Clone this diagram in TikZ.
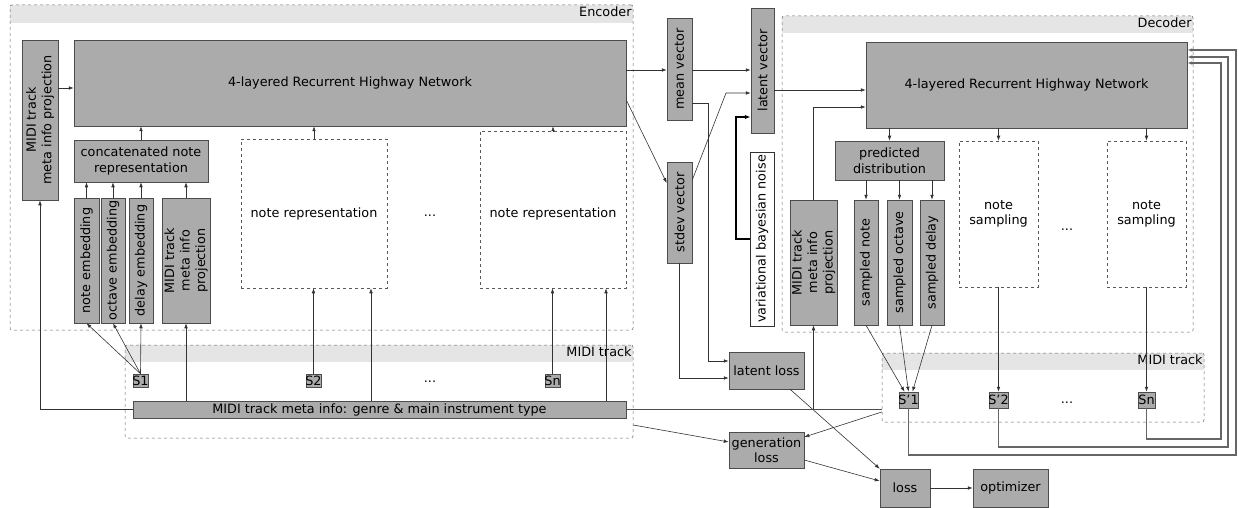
\documentclass[tikz,border=0pt]{standalone}
\usepackage{fontspec}
\setmainfont{DejaVu Sans}
\usetikzlibrary{fit,arrows.meta}
\begin{document}
\begin{tikzpicture}[x=1pt,y=-1pt,
  font=\fontsize{12.8}{15.5}\selectfont,
  gbox/.style={draw=black!70, fill=black!33, line width=0.5pt, inner sep=0pt},
  wbox/.style={draw=black!65, dashed, fill=white, line width=0.5pt, inner sep=0pt},
  nbox/.style={draw=black!80, fill=white, line width=0.6pt, inner sep=0pt},
  cont/.style={draw=black!60, dashed, rounded corners=2pt, line width=0.5pt, inner sep=0pt},
  hdr/.style={fill=black!10, inner sep=0pt},
  txt/.style={align=center, inner sep=0pt},
  rot/.style={rotate=90, align=center, inner sep=0pt},
  lbl/.style={inner sep=1.5pt},
  conn/.style={draw=black!80, line width=0.6pt, -{Latex[length=5pt,width=3.6pt]}},
  plain/.style={draw=black!70, line width=0.6pt},
  fb/.style={draw=black!60, line width=1.1pt, -{Latex[length=5pt,width=3.6pt]}},
  thickc/.style={draw=black, line width=1.5pt, -{Latex[length=6pt,width=4.5pt]}}
]
\useasboundingbox (0,0) rectangle (1239,508);

% ---------------- Encoder ----------------
\node[hdr, fit={(10,5)(633,23)}] (enc-h) {};
\node[cont, fit={(10,5)(633,330)}] (enc) {};
\node[lbl, anchor=north east] (enc-l) at (enc.north east) {Encoder};

\node[gbox, fit={(74,40)(626,126)}] (erhn) {};
\node[txt] (erhn-t) at (erhn) {4-layered Recurrent Highway Network};
\node[gbox, fit={(22,40)(58,200)}] (eproj) {};
\node[rot] (eproj-t) at (eproj) {MIDI track\\meta info projection};

\node[gbox, fit={(74,140)(208,182)}] (concat) {};
\node[txt] (concat-t) at (concat) {concatenated note\\representation};
\node[gbox, fit={(74,198)(99,323)}] (ne) {};
\node[rot] (ne-t) at (ne) {note embedding};
\node[gbox, fit={(101,198)(125,323)}] (oe) {};
\node[rot] (oe-t) at (oe) {octave embedding};
\node[gbox, fit={(129,198)(153,323)}] (de) {};
\node[rot] (de-t) at (de) {delay embedding};
\node[gbox, fit={(162,198)(210,323)}] (emp) {};
\node[rot] (emp-t) at (emp) {MIDI track\\meta info\\projection};

\node[wbox, fit={(241,139)(387,288)}] (nr1) {};
\node[txt] (nr1-t) at (nr1) {note representation};
\node[wbox, fit={(480,131)(626,288)}] (nr2) {};
\node[txt] (nr2-t) at ([yshift=-4pt]nr2.center) {note representation};
\node[txt] (edots) at (430,216) {...};

% Encoder MIDI track
\node[hdr, fit={(125,345)(633,362)}] (emt-h) {};
\node[cont, fit={(125,345)(633,438)}] (emt) {};
\node[lbl, anchor=north east] (emt-l) at (emt.north east) {MIDI track};
\node[gbox, fit={(133,374)(148,387)}] (S1) {};
\node[txt] (S1-t) at (S1) {S1};
\node[gbox, fit={(306,374)(321,387)}] (S2) {};
\node[txt] (S2-t) at (S2) {S2};
\node[gbox, fit={(545,374)(560,387)}] (Sn) {};
\node[txt] (Sn-t) at (Sn) {Sn};
\node[txt] (edots2) at (430,382) {...};
\node[gbox, fit={(133,401)(626,418)}] (meta) {};
\node[txt] (meta-t) at (meta) {MIDI track meta info: genre \& main instrument type};

% ---------------- Middle ----------------
\node[gbox, fit={(667,18)(692,120)}] (mean) {};
\node[rot] (mean-t) at (mean) {mean vector};
\node[gbox, fit={(667,162)(692,263)}] (stdev) {};
\node[rot] (stdev-t) at (stdev) {stdev vector};
\node[gbox, fit={(751,8)(774,133)}] (latent) {};
\node[rot] (latent-t) at (latent) {latent vector};
\node[nbox, fit={(750,152)(774,326)}] (noise) {};
\node[rot] (noise-t) at (noise) {variational bayesian noise};

\node[gbox, fit={(729,352)(804,389)}] (lloss) {};
\node[txt] (lloss-t) at (lloss) {latent loss};
\node[gbox, fit={(729,432)(804,468)}] (gloss) {};
\node[txt] (gloss-t) at (gloss) {generation\\loss};
\node[gbox, fit={(880,469)(930,507)}] (loss) {};
\node[txt] (loss-t) at (loss) {loss};
\node[gbox, fit={(973,469)(1048,507)}] (opt) {};
\node[txt] (opt-t) at (opt) {optimizer};

% ---------------- Decoder ----------------
\node[hdr, fit={(782,16)(1193,33)}] (dec-h) {};
\node[cont, fit={(782,16)(1193,332)}] (dec) {};
\node[lbl, anchor=north east] (dec-l) at (dec.north east) {Decoder};

\node[gbox, fit={(866,42)(1187,128)}] (drhn) {};
\node[txt] (drhn-t) at (drhn) {4-layered Recurrent Highway Network};
\node[gbox, fit={(790,200)(837,325)}] (dproj) {};
\node[rot] (dproj-t) at (dproj) {MIDI track\\meta info\\projection};
\node[gbox, fit={(835,141)(944,180)}] (pred) {};
\node[txt] (pred-t) at (pred) {predicted\\distribution};
\node[gbox, fit={(854,200)(878,325)}] (sn) {};
\node[rot] (sn-t) at (sn) {sampled note};
\node[gbox, fit={(887,200)(912,325)}] (so) {};
\node[rot] (so-t) at (so) {sampled octave};
\node[gbox, fit={(920,200)(944,325)}] (sd) {};
\node[rot] (sd-t) at (sd) {sampled delay};
\node[wbox, fit={(959,141)(1038,287)}] (ns1) {};
\node[txt] (ns1-t) at (ns1) {note\\sampling};
\node[wbox, fit={(1107,141)(1186,287)}] (ns2) {};
\node[txt] (ns2-t) at (ns2) {note\\sampling};
\node[txt] (ddots) at (1067,230) {...};

% Decoder MIDI track
\node[hdr, fit={(882,353)(1204,370)}] (dmt-h) {};
\node[cont, fit={(882,353)(1204,422)}] (dmt) {};
\node[lbl, anchor=north east] (dmt-l) at (dmt.north east) {MIDI track};
\node[gbox, fit={(899,392)(918,408)}] (Sp1) {};
\node[txt] (Sp1-t) at (Sp1) {S’1};
\node[gbox, fit={(989,392)(1008,408)}] (Sp2) {};
\node[txt] (Sp2-t) at (Sp2) {S’2};
\node[gbox, fit={(1138,392)(1155,408)}] (Spn) {};
\node[txt] (Spn-t) at (Spn) {Sn};
\node[txt] (ddots2) at (1067,403) {...};

% ---------------- Connectors: encoder ----------------
\draw[conn] (eproj.east |- 0,88) -- (erhn.west |- 0,88);
\draw[conn] (concat.north) -- (concat.north |- erhn.south);
\draw[conn] (ne.north) -- (ne.north |- concat.south);
\draw[conn] (oe.north) -- (oe.north |- concat.south);
\draw[conn] (de.north) -- (de.north |- concat.south);
\draw[conn] (emp.north) -- (emp.north |- concat.south);
\draw[conn] (nr1.north) -- (nr1.north |- erhn.south);
\draw[conn] (nr2.north) -- (nr2.north |- erhn.south);
\draw[conn] (S1.north) -- (ne.south);
\draw[conn] (S1.north) -- (oe.south);
\draw[conn] (S1.north) -- (de.south);
\draw[conn] (meta.north -| emp.south) -- (emp.south);
\draw[conn] (meta.west |- 0,409) -| (eproj.south);
\draw[conn] (S2.north) -- (S2.north |- nr1.south);
\draw[conn] (Sn.north) -- (Sn.north |- nr2.south);
\draw[conn] (meta.north -| 371,0) -- (nr1.south -| 371,0);
\draw[conn] (meta.north -| 606,0) -- (nr2.south -| 606,0);

% ---------------- Connectors: middle ----------------
\draw[conn] (erhn.east |- 0,70) -- (mean.west |- 0,70);
\draw[conn] (erhn.east |- 0,100) -- (stdev.west |- 0,183);
\draw[conn] (mean.east |- 0,70) -- (latent.west |- 0,70);
\draw[conn] (stdev.east |- 0,180) -- (726,93) -- (latent.west |- 0,93);
\draw[thickc] (noise.west |- 0,239) -- (736,239) -- (736,117) -- (latent.west |- 0,117);
\draw[conn] (latent.east |- 0,90) -- (drhn.west |- 0,90);
\draw[conn] (mean.east |- 0,103) -- (708,103) -- (708,361) -- (lloss.west |- 0,361);
\draw[conn] (stdev.south) |- (lloss.west |- 0,378);
\draw[conn] (lloss.south -| 790,0) -- (loss.north west);
\draw[conn] (gloss.east |- 0,460) -- (loss.west |- 0,481);
\draw[conn] (loss.east) -- (opt.west);
\draw[conn] (emt.east |- 0,425) -- (gloss.west |- 0,442);
\draw[conn] (dmt.west |- 0,412) -- (gloss.east |- 0,437);
\draw[plain] (meta.east |- 0,409) -- (dmt.west |- 0,409);
\draw[conn] (dproj.south |- 0,409) -- (dproj.south);

% ---------------- Connectors: decoder ----------------
\draw[conn] (dproj.north) |- (drhn.west |- 0,107);
\draw[conn] (pred.north |- drhn.south) -- (pred.north);
\draw[conn] (ns1.north |- drhn.south) -- (ns1.north);
\draw[conn] (ns2.north |- drhn.south) -- (ns2.north);
\draw[conn] (sn.north |- pred.south) -- (sn.north);
\draw[conn] (so.north |- pred.south) -- (so.north);
\draw[conn] (sd.north |- pred.south) -- (sd.north);
\draw[conn] (sn.south) -- ([xshift=-4pt]Sp1.north);
\draw[conn] (so.south) -- (Sp1.north);
\draw[conn] (sd.south) -- ([xshift=4pt]Sp1.north);
\draw[conn] (ns1.south) -- (Sp2.north);
\draw[conn] (ns2.south) -- (Spn.north);

% feedback loops
\draw[fb] (Sp1.south) |- (1236,455) |- (drhn.east |- 0,50);
\draw[fb] (Sp2.south) |- (1228,447) |- (drhn.east |- 0,57);
\draw[fb] (Spn.south) |- (1221,439) |- (drhn.east |- 0,63);
\end{tikzpicture}
\end{document}
